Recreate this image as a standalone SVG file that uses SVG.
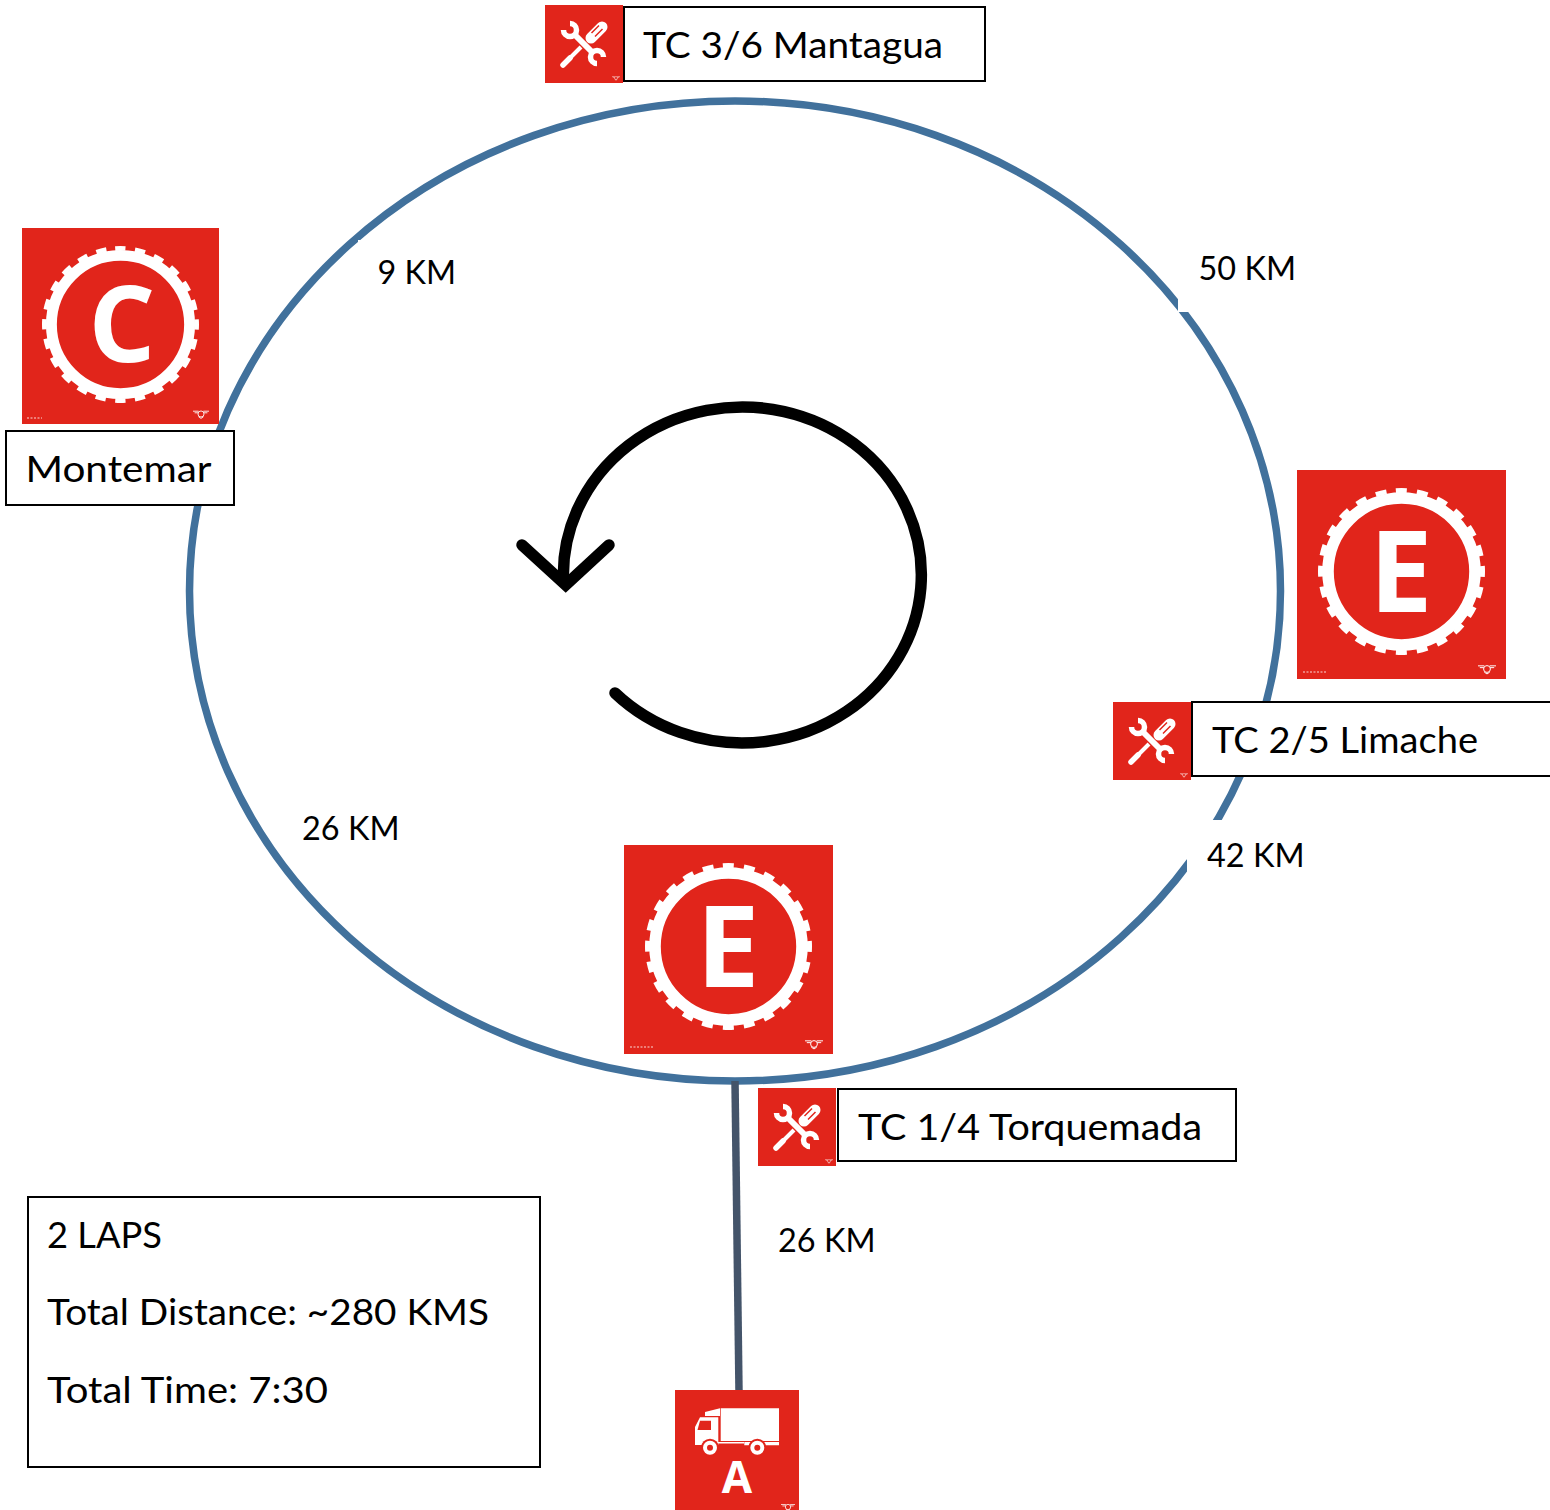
<svg xmlns="http://www.w3.org/2000/svg" xmlns:xlink="http://www.w3.org/1999/xlink" width="1550" height="1510" viewBox="0 0 1550 1510">
<style>
.lbl{font-family:Lato,"Open Sans",sans-serif;fill:#000;font-size:36px}
.km{font-family:Lato,"Open Sans",sans-serif;fill:#000;font-size:32px}
.box{fill:#fff;stroke:#000;stroke-width:2}
.red{fill:#e1251b}
.mask{fill:#fff}
.badge{font-family:"Open Sans",Lato,sans-serif;font-weight:700;fill:#fff;text-anchor:middle}
.fine{fill:none;stroke:#fff;stroke-width:1.500;stroke-dasharray:2 1.500;opacity:.55}
</style>
<defs>
<g id="gear">
<circle r="73.500" fill="none" stroke="#fff" stroke-width="11.600"/>
<circle r="81" fill="none" stroke="#fff" stroke-width="5" stroke-dasharray="11 10.200" transform="rotate(-94)"/>
</g>
<g id="wings" fill="none" stroke="#fff" stroke-width="1.100">
<circle r="3.800"/>
<path d="M-10,-3.500H-3M3,-3.500H10M-8,-1.500H-3.500M3.500,-1.500H8M-3,3.500L0,5.500L3,3.500"/>
</g>
<g id="tools">
<rect class="red" width="78" height="78"/>
<g stroke="#fff" fill="none">
<path d="M29,29L48,48" stroke-width="6"/>
<path d="M25,18.500A6.500,6.500 0 1 1 18.500,25" stroke-width="5.500"/>
<path d="M52,58.500A6.500,6.500 0 1 1 58.500,52" stroke-width="5.500"/>
<path d="M46,33L57,22" stroke-width="11" stroke-linecap="round"/>
<path d="M46.500,28L54,20.500M50,31.500L57.500,24" stroke="#e1251b" stroke-width="1.500"/>
<path d="M36,42L23,55" stroke-width="4"/>
<path d="M25,53L18,60" stroke-width="5.500" stroke-linecap="round"/>
</g>
<use xlink:href="#wings" transform="translate(71,73) scale(.4)"/>
</g>
</defs>

<g id="connectors">
<ellipse cx="735" cy="591" rx="545.500" ry="490" fill="none" stroke="#41719c" stroke-width="7.500"/>
<path d="M735,1081L739,1391" fill="none" stroke="#44546a" stroke-width="7.500"/>
<rect class="mask" x="358" y="240" width="100" height="60"/>
<rect class="mask" x="1178" y="240" width="130" height="72"/>
<rect class="mask" x="1187" y="820" width="130" height="60"/>
</g>

<g id="direction-arrow" fill="none" stroke="#000" stroke-width="11.500" stroke-linecap="round">
<path d="M615,693A179,168 0 1 0 563.500,582"/>
<path d="M522,545L565.700,585L609,545" stroke-linejoin="miter"/>
</g>

<g id="node-tc36">
<use xlink:href="#tools" transform="translate(545,5)"/>
<rect class="box" x="624" y="7" width="361" height="74"/>
<text class="lbl" x="643" y="58" textLength="300" lengthAdjust="spacingAndGlyphs">TC 3/6 Mantagua</text>
</g>

<g id="node-montemar">
<rect class="red" x="22" y="228" width="197" height="196"/>
<use xlink:href="#gear" transform="translate(120.500,324.500) scale(.94)"/>
<text class="badge" x="122" y="362" font-size="105">C</text>
<use xlink:href="#wings" transform="translate(201,414) scale(.8)"/>
<path class="fine" d="M27,418H42"/>
<rect class="box" x="6" y="431" width="228" height="74"/>
<text class="lbl" x="25.500" y="482" textLength="186" lengthAdjust="spacingAndGlyphs">Montemar</text>
</g>

<g id="node-e-right">
<rect class="red" x="1297" y="470" width="209" height="209"/>
<use xlink:href="#gear" transform="translate(1401.500,571.500)"/>
<text class="badge" x="1401" y="612" font-size="113">E</text>
<use xlink:href="#wings" transform="translate(1487,669) scale(.9)"/>
<path class="fine" d="M1303,672H1326"/>
</g>

<g id="node-tc25">
<use xlink:href="#tools" transform="translate(1113,702)"/>
<rect class="box" x="1192" y="702" width="370" height="74"/>
<text class="lbl" x="1212" y="753" textLength="266" lengthAdjust="spacingAndGlyphs">TC 2/5 Limache</text>
</g>

<g id="node-e-center">
<rect class="red" x="624" y="845" width="209" height="209"/>
<use xlink:href="#gear" transform="translate(728.500,946.500)"/>
<text class="badge" x="728" y="987" font-size="113">E</text>
<use xlink:href="#wings" transform="translate(814,1044) scale(.9)"/>
<path class="fine" d="M630,1047H653"/>
</g>

<g id="node-tc14">
<use xlink:href="#tools" transform="translate(758,1088)"/>
<rect class="box" x="838" y="1089" width="398" height="72"/>
<text class="lbl" x="858" y="1140" textLength="344" lengthAdjust="spacingAndGlyphs">TC 1/4 Torquemada</text>
</g>

<g id="node-a">
<rect class="red" x="675" y="1390" width="124" height="120"/>
<path fill="#fff" d="M720.700,1408.300H779V1441H720.700ZM705,1412L720,1408.300V1416H705ZM700,1417.300H718.300V1445H695V1427ZM744.300,1442H779V1445.300H744.300ZM718,1442H744V1443.500H718Z"/>
<path fill="#e1251b" d="M700,1420.700H711V1430H697.500Z"/>
<circle class="red" cx="710" cy="1447.700" r="9"/>
<circle class="red" cx="757.300" cy="1447.700" r="9"/>
<g fill="#e1251b" stroke="#fff" stroke-width="4">
<circle cx="710" cy="1447.700" r="5"/>
<circle cx="757.300" cy="1447.700" r="5"/>
</g>
<text class="badge" x="737" y="1493" font-size="44">A</text>
<use xlink:href="#wings" transform="translate(788,1507) scale(.7)"/>
</g>

<g id="labels">
<text class="km" x="377.500" y="284" textLength="78.500" lengthAdjust="spacingAndGlyphs">9 KM</text>
<text class="km" x="1198.500" y="280" textLength="97.500" lengthAdjust="spacingAndGlyphs">50 KM</text>
<text class="km" x="1207" y="867" textLength="97.500" lengthAdjust="spacingAndGlyphs">42 KM</text>
<text class="km" x="302" y="840" textLength="97.500" lengthAdjust="spacingAndGlyphs">26 KM</text>
<text class="km" x="778" y="1252" textLength="97.500" lengthAdjust="spacingAndGlyphs">26 KM</text>
</g>

<g id="node-info">
<rect class="box" x="28" y="1197" width="512" height="270"/>
<text class="lbl" x="47" y="1248" textLength="115" lengthAdjust="spacingAndGlyphs">2 LAPS</text>
<text class="lbl" x="47" y="1325" textLength="442" lengthAdjust="spacingAndGlyphs">Total Distance: ~280 KMS</text>
<text class="lbl" x="47" y="1403" textLength="281" lengthAdjust="spacingAndGlyphs">Total Time: 7:30</text>
</g>
</svg>
